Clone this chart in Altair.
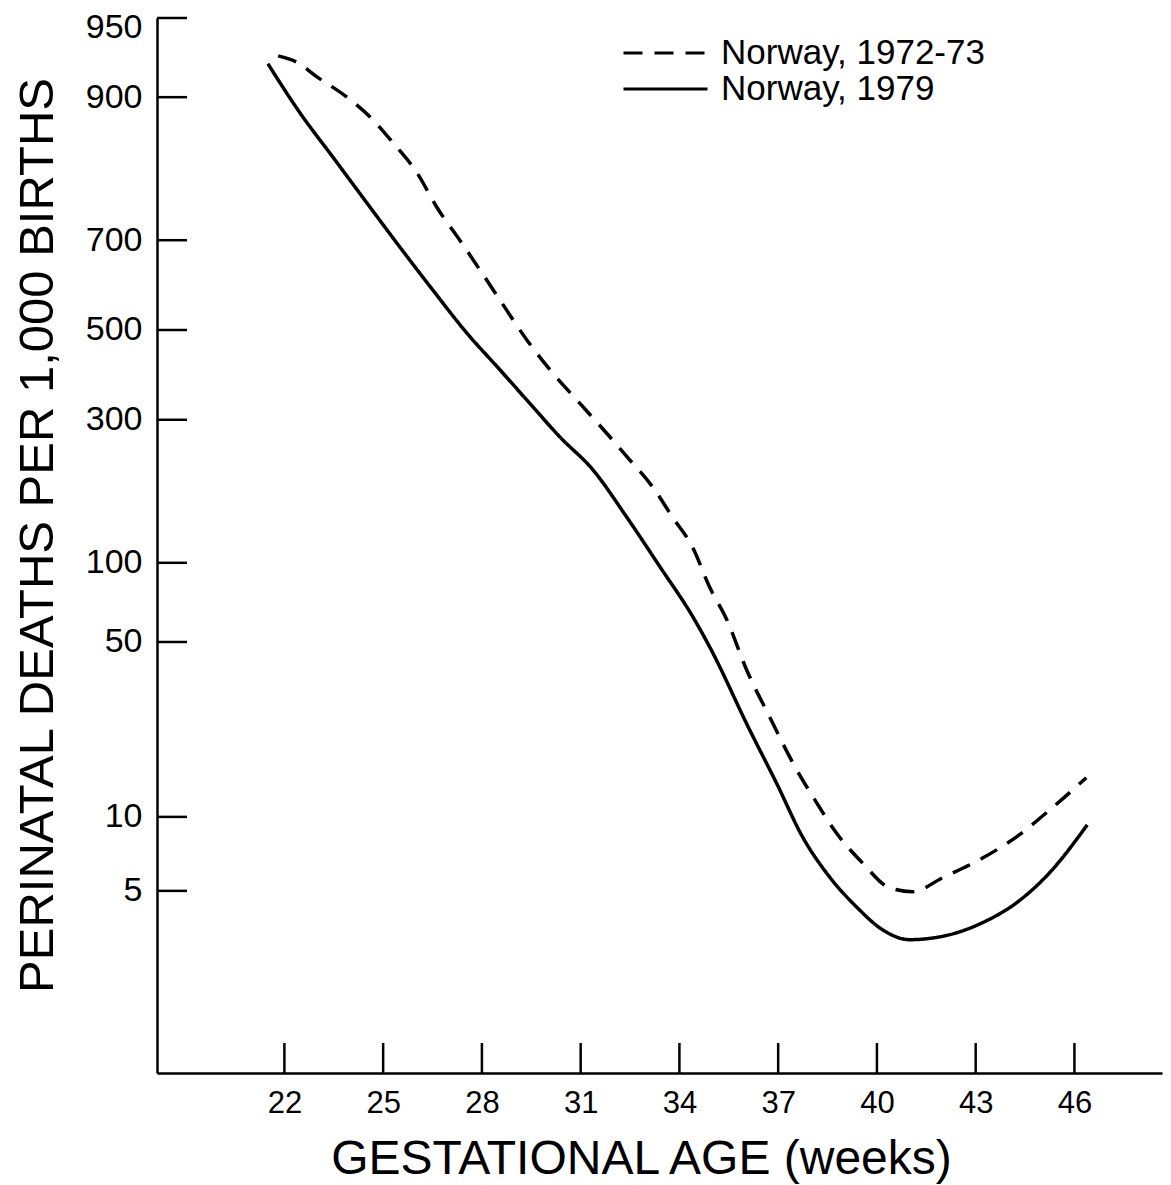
import math
import altair as alt
import pandas as pd

# ---- data (deaths per 1,000 births) ----
series_names = ["Norway, 1972-73", "Norway, 1979"]

weeks_7273 = [21.81, 22.38, 22.99, 23.90, 24.69, 25.30, 26.03, 26.63, 27.33, 27.94,
              28.55, 29.37, 30.15, 30.97, 31.79, 32.49, 33.19, 33.79, 34.40, 34.92,
              35.44, 36.04, 36.74, 37.44, 38.17, 38.77, 39.56, 40.38, 41.08, 41.99,
              43.21, 44.24, 45.33, 46.36]
rate_7273 = [930, 926, 916, 900, 879, 854, 815, 761, 700, 638,
             570, 476, 400, 334, 274, 227, 185, 146, 114, 81,
             61, 38.9, 25.3, 16.6, 11.4, 8.6, 6.5, 5.15, 4.96, 5.65,
             6.8, 8.3, 10.9, 14.4]

weeks_1979 = [21.50, 22.47, 23.48, 24.51, 25.51, 26.51, 27.54, 28.55, 29.55, 30.37,
              31.37, 32.40, 33.41, 34.41, 34.92, 36.13, 36.95, 37.74, 38.56, 39.38,
              40.17, 40.99, 42.20, 43.21, 44.24, 45.24, 46.39]
rate_1979 = [925, 886, 836, 768, 686, 593, 493, 407, 326, 267,
             211, 146, 96.6, 62.5, 47.8, 22.5, 13.7, 8.3, 5.7, 4.3,
             3.47, 3.16, 3.31, 3.71, 4.47, 5.92, 9.28]

y_tick_labels = [950, 900, 700, 500, 300, 100, 50, 10, 5]
x_tick_values = [22, 25, 28, 31, 34, 37, 40, 43, 46]

y_min_rate = 0.9
x_domain = [18.13, 48.66]

FONT = "Liberation Sans"
W, H = 1005, 1055


def logit(v):
    return math.log(v / (1000.0 - v))


lines_df = pd.DataFrame(
    {"series": [series_names[0]] * len(weeks_7273) + [series_names[1]] * len(weeks_1979),
     "week": weeks_7273 + weeks_1979,
     "rate": rate_7273 + rate_1979}
)
ytick_df = pd.DataFrame({"rate": y_tick_labels})
xtick_df = pd.DataFrame({"week": x_tick_values})

LOGIT = "log(datum.rate / (1000 - datum.rate))"

x_scale = alt.Scale(domain=x_domain, nice=False, zero=False)
y_scale = alt.Scale(domain=[logit(y_min_rate), logit(y_tick_labels[0])], nice=False, zero=False)

x_axis = alt.Axis(values=x_tick_values, format="d", ticks=False, grid=False,
                  labelFontSize=31, labelFont=FONT, labelColor="black",
                  labelPadding=39, labelBaseline="alphabetic",
                  domainColor="black", domainWidth=2.5,
                  title="GESTATIONAL AGE (weeks)", titleFont=FONT,
                  titleFontSize=48, titleFontWeight="normal", titleColor="black",
                  titleX=484, titleY=100, titleAlign="center",
                  titleBaseline="alphabetic")
y_axis = alt.Axis(values=[logit(v) for v in y_tick_labels],
                  labelExpr="format(1000 / (1 + exp(-datum.value)), '.0f')",
                  ticks=False, grid=False, labelFlush=True, labelFlushOffset=7.5,
                  labelFontSize=34, labelFont=FONT, labelColor="black",
                  labelPadding=15,
                  domainColor="black", domainWidth=2.5,
                  title="PERINATAL DEATHS PER 1,000 BIRTHS", titleFont=FONT,
                  titleFontSize=49, titleFontWeight="normal", titleColor="black",
                  titleX=-120, titleY=517, titleAlign="center",
                  titleBaseline="middle")

lines = alt.Chart(lines_df).transform_calculate(lg=LOGIT).mark_line(
    color="black", strokeWidth=3.5, interpolate="monotone"
).encode(
    x=alt.X("week:Q", scale=x_scale, axis=x_axis),
    y=alt.Y("lg:Q", scale=y_scale, axis=y_axis),
    strokeDash=alt.StrokeDash(
        "series:N",
        scale=alt.Scale(domain=series_names, range=[[19, 12], [1, 0]]),
        legend=alt.Legend(title=None, orient="none", legendX=491, legendY=17.5,
                          symbolType="M-4,0H4", symbolSize=441,
                          symbolStrokeColor="black", symbolStrokeWidth=3,
                          labelFont=FONT, labelFontSize=35, labelColor="black",
                          labelLimit=500, labelOffset=38, rowPadding=-2),
    ),
)

ytick_rules = alt.Chart(ytick_df).transform_calculate(lg=LOGIT).mark_rule(
    color="black", strokeWidth=2.5
).encode(
    y=alt.Y("lg:Q", scale=y_scale, axis=y_axis),
    x=alt.value(0),
    x2=alt.value(30),
)

xtick_rules = alt.Chart(xtick_df).mark_rule(color="black", strokeWidth=2.5).encode(
    x=alt.X("week:Q", scale=x_scale, axis=x_axis),
    y=alt.value(H),
    y2=alt.value(H - 30),
)

chart = alt.layer(lines, ytick_rules, xtick_rules).properties(
    width=W, height=H,
    padding={"left": 149, "top": 10, "right": 1, "bottom": 112},
    autosize=alt.AutoSizeParams(type="none"),
    background="white",
).configure_view(strokeWidth=0)

chart.save("out.html", embed_options={"renderer": "svg", "actions": False})
